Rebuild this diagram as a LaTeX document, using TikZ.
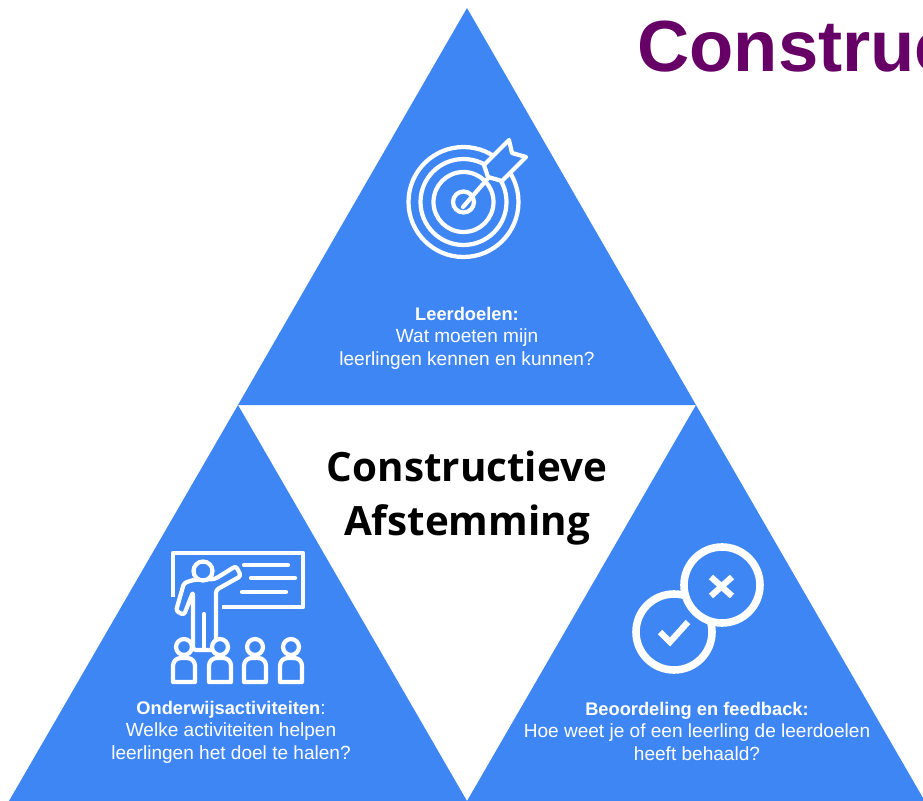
\documentclass[tikz,border=0pt]{standalone}
\usepackage{fontspec}
\setmainfont{Liberation Sans}
\newfontfamily\headfont{Open Sans}
\usetikzlibrary{calc,positioning}
\definecolor{triblue}{HTML}{3F86F5}
\definecolor{titlepurple}{HTML}{660066}
\newcommand{\lhead}[1]{{\fontsize{13}{16}\selectfont\bfseries #1}}
\tikzset{
    triangle/.style={
    fill=triblue,draw=none
    },
    label/.style={
    align=center,text=white,inner sep=0pt,font=\fontsize{13.55}{16}\selectfont
    },
    heading/.style={
    align=center,text=black,inner sep=0pt,font=\headfont\bfseries\fontsize{28.7}{39}\selectfont
    },
    icon/.style={
    draw=white,line width=3pt,line cap=round,line join=round
    },
    iconfill/.style={
    icon,fill=triblue
    },
}

\begin{document}
\begin{tikzpicture}[x=0.025cm,y=-0.025cm]
   \useasboundingbox (0,0) rectangle (923,801);
   \clip (0,0) rectangle (923,801);

   %triangles
   \fill[triangle] (467,8) -- (696,405) -- (238,405) -- cycle;
   \fill[triangle] (238,405) -- (467,801) -- (9,801) -- cycle;
   \fill[triangle] (696,405) -- (923,798) -- (923,801) -- (467,801) -- cycle;

   %title
   \node[anchor=base west,inner sep=0pt,text=titlepurple,font=\bfseries\fontsize{51.5}{60}\selectfont] (title) at (637,72) {Construc};
   \node[heading] (centre) at (467,498) {Constructieve\\Afstemming};

   %texts
   \node[label] (goals) at (467,338) {\lhead{Leerdoelen:}\\Wat moeten mijn\\leerlingen kennen en kunnen?};
   \node[label] (activities) at (231,732) {\lhead{Onderwijsactiviteiten}:\\Welke activiteiten helpen\\leerlingen het doel te halen?};
   \node[label] (feedback) at (697,731) {\lhead{Beoordeling en feedback:}\\Hoe weet je of een leerling de leerdoelen\\heeft behaald?};

   %target
   \foreach \r in {55,43,30,10.5}
     \draw[icon] (463.5,202) circle (\r);
   \draw[icon] (463,207) -- (490,176);
   \draw[iconfill] (484,165) -- (509,140) -- (512,153) -- (526,157) -- (502,181) -- (488,177) -- cycle;

   %board with teacher
   \draw[icon,line cap=butt] (173,597) -- (173,553) -- (303,553) -- (303,607) -- (222,607);
   \draw[icon] (244,565) -- (288,565);
   \draw[icon] (251,578) -- (295,578);
   \draw[icon] (242,592) -- (286,592);
   \draw[icon,rounded corners=2pt] (193,580) -- (184,583) -- (176,611) -- (184,615) -- (193,592) -- (193,650) -- (216,650) -- (216,590) -- (241,576) -- (236,566) -- (215,579) -- cycle;
   \draw[icon] (204,614) -- (204,650);
   \draw[iconfill] (203,571) circle (9.5);

   %audience
   \foreach \x in {184,220,255,291} {
     \draw[iconfill] (\x-11,682) [rounded corners=5.5pt] -- (\x-11,658) -- (\x+11,658) [sharp corners] -- (\x+11,682) -- cycle;
     \draw[iconfill] (\x,647) circle (8);
   }

   %check and cross
   \draw[iconfill,line width=5.4pt] (674,632) circle (38);
   \draw[iconfill,line width=5.4pt] (722,585) circle (38);
   \draw[icon,line width=4.4pt,line cap=butt,line join=miter] (660,632) -- (670,642) -- (688,622);
   \draw[icon,line width=4.4pt,line cap=butt] (711,577) -- (732,596);
   \draw[icon,line width=4.4pt,line cap=butt] (732,577) -- (711,596);
\end{tikzpicture}
\end{document}
